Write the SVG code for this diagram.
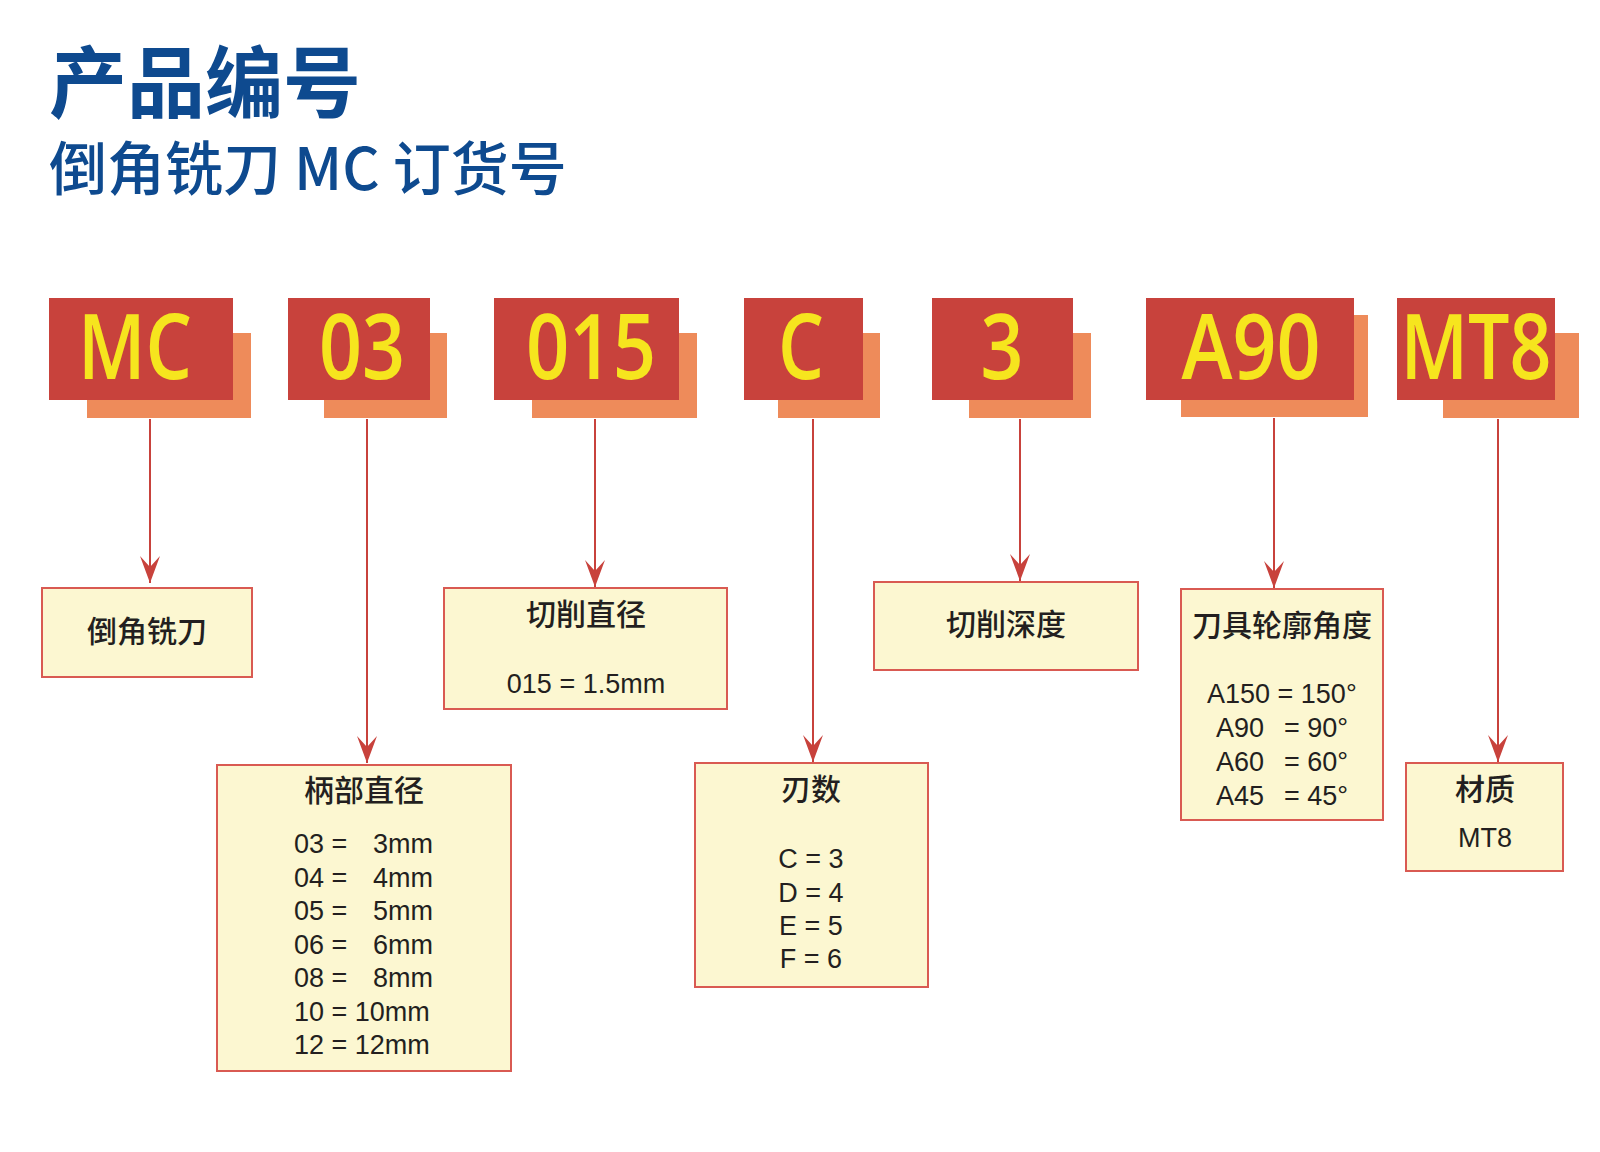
<svg xmlns="http://www.w3.org/2000/svg" width="1600" height="1152" viewBox="0 0 1600 1152">
<defs>
<style>
.title{font-family:"Noto Sans CJK SC","Noto Sans",sans-serif;fill:#0e4a8f}
.codebg{fill:#c8423c}
.codesh{fill:#ee8b5a}
.code{font-family:"Open Sans","Liberation Sans",Arial,sans-serif;font-weight:600;font-size:91px;fill:#f6e51e;text-anchor:middle}
.box{fill:#fcf7d1;stroke:#d95a52;stroke-width:2}
.lbl{font-family:"Noto Sans CJK SC","Noto Sans",sans-serif;font-weight:500;font-size:30px;fill:#231f20;text-anchor:middle}
.val{font-family:"Liberation Sans",Arial,sans-serif;font-size:27px;fill:#231f20}
.mid{text-anchor:middle}
.conn{stroke:#c8423c;stroke-width:2;fill:none}
</style>
<marker id="ah" markerWidth="30" markerHeight="22" viewBox="-28 -11 30 22" refX="0" refY="0" orient="auto" markerUnits="userSpaceOnUse">
<path d="M0,0 L-27,-10 L-16,0 L-27,10 Z" fill="#c8423c"/>
</marker>
</defs>
<rect width="1600" height="1152" fill="#ffffff"/>

<g id="title">
<text class="title" x="49" y="112" font-size="78" font-weight="bold">产品编号</text>
<text class="title" x="49" y="190" font-size="58" font-weight="500">倒角铣刀 MC 订货号</text>
</g>

<g id="code-MC">
<rect class="codesh" x="87" y="333" width="164" height="85"/>
<rect class="codebg" x="49" y="298" width="184" height="102"/>
<text class="code" x="135" y="379" textLength="114" lengthAdjust="spacingAndGlyphs">MC</text>
</g>
<g id="code-03">
<rect class="codesh" x="324" y="333" width="123" height="85"/>
<rect class="codebg" x="288" y="298" width="142" height="102"/>
<text class="code" x="362" y="379" textLength="86" lengthAdjust="spacingAndGlyphs">03</text>
</g>
<g id="code-015">
<rect class="codesh" x="532" y="333" width="165" height="85"/>
<rect class="codebg" x="494" y="298" width="185" height="102"/>
<text class="code" x="591" y="379" textLength="130" lengthAdjust="spacingAndGlyphs">015</text>
</g>
<g id="code-C">
<rect class="codesh" x="778" y="333" width="102" height="85"/>
<rect class="codebg" x="744" y="298" width="119" height="102"/>
<text class="code" x="801" y="379" textLength="46" lengthAdjust="spacingAndGlyphs">C</text>
</g>
<g id="code-3">
<rect class="codesh" x="969" y="333" width="122" height="85"/>
<rect class="codebg" x="932" y="298" width="141" height="102"/>
<text class="code" x="1002" y="379" textLength="43" lengthAdjust="spacingAndGlyphs">3</text>
</g>
<g id="code-A90">
<rect class="codesh" x="1181" y="315" width="187" height="102"/>
<rect class="codebg" x="1146" y="298" width="208" height="102"/>
<text class="code" x="1251" y="379" textLength="139" lengthAdjust="spacingAndGlyphs">A90</text>
</g>
<g id="code-MT8">
<rect class="codesh" x="1443" y="333" width="136" height="85"/>
<rect class="codebg" x="1397" y="298" width="158" height="102"/>
<text class="code" x="1476" y="379" textLength="151" lengthAdjust="spacingAndGlyphs">MT8</text>
</g>

<g id="connectors">
<line class="conn" x1="150" y1="419" x2="150" y2="583" marker-end="url(#ah)"/>
<line class="conn" x1="367" y1="419" x2="367" y2="763" marker-end="url(#ah)"/>
<line class="conn" x1="595" y1="419" x2="595" y2="587" marker-end="url(#ah)"/>
<line class="conn" x1="813" y1="419" x2="813" y2="762" marker-end="url(#ah)"/>
<line class="conn" x1="1020" y1="419" x2="1020" y2="581" marker-end="url(#ah)"/>
<line class="conn" x1="1274" y1="418" x2="1274" y2="588" marker-end="url(#ah)"/>
<line class="conn" x1="1498" y1="419" x2="1498" y2="762" marker-end="url(#ah)"/>
</g>

<g id="box-type">
<rect class="box" x="42" y="588" width="210" height="89"/>
<text class="lbl" x="147" y="642">倒角铣刀</text>
</g>

<g id="box-shank">
<rect class="box" x="217" y="765" width="294" height="306"/>
<text class="lbl" x="364" y="801">柄部直径</text>
<text class="val" x="294" y="853">03 =<tspan x="373">3mm</tspan></text>
<text class="val" x="294" y="886.5">04 =<tspan x="373">4mm</tspan></text>
<text class="val" x="294" y="920">05 =<tspan x="373">5mm</tspan></text>
<text class="val" x="294" y="953.5">06 =<tspan x="373">6mm</tspan></text>
<text class="val" x="294" y="987">08 =<tspan x="373">8mm</tspan></text>
<text class="val" x="294" y="1020.5">10 = 10mm</text>
<text class="val" x="294" y="1054">12 = 12mm</text>
</g>

<g id="box-cutdia">
<rect class="box" x="444" y="588" width="283" height="121"/>
<text class="lbl" x="586" y="625">切削直径</text>
<text class="val mid" x="586" y="693">015 = 1.5mm</text>
</g>

<g id="box-flutes">
<rect class="box" x="695" y="763" width="233" height="224"/>
<text class="lbl" x="811" y="800">刃数</text>
<text class="val mid" x="811" y="868">C = 3</text>
<text class="val mid" x="811" y="902">D = 4</text>
<text class="val mid" x="811" y="935">E = 5</text>
<text class="val mid" x="811" y="968">F = 6</text>
</g>

<g id="box-depth">
<rect class="box" x="874" y="582" width="264" height="88"/>
<text class="lbl" x="1006" y="635">切削深度</text>
</g>

<g id="box-angle">
<rect class="box" x="1181" y="589" width="202" height="231"/>
<text class="lbl" x="1282" y="636">刀具轮廓角度</text>
<text class="val" x="1207" y="703">A150 = 150°</text>
<text class="val" x="1216" y="737">A90<tspan x="1284">= 90°</tspan></text>
<text class="val" x="1216" y="771">A60<tspan x="1284">= 60°</tspan></text>
<text class="val" x="1216" y="805">A45<tspan x="1284">= 45°</tspan></text>
</g>

<g id="box-material">
<rect class="box" x="1406" y="763" width="157" height="108"/>
<text class="lbl" x="1485" y="800">材质</text>
<text class="val mid" x="1485" y="847">MT8</text>
</g>
</svg>
